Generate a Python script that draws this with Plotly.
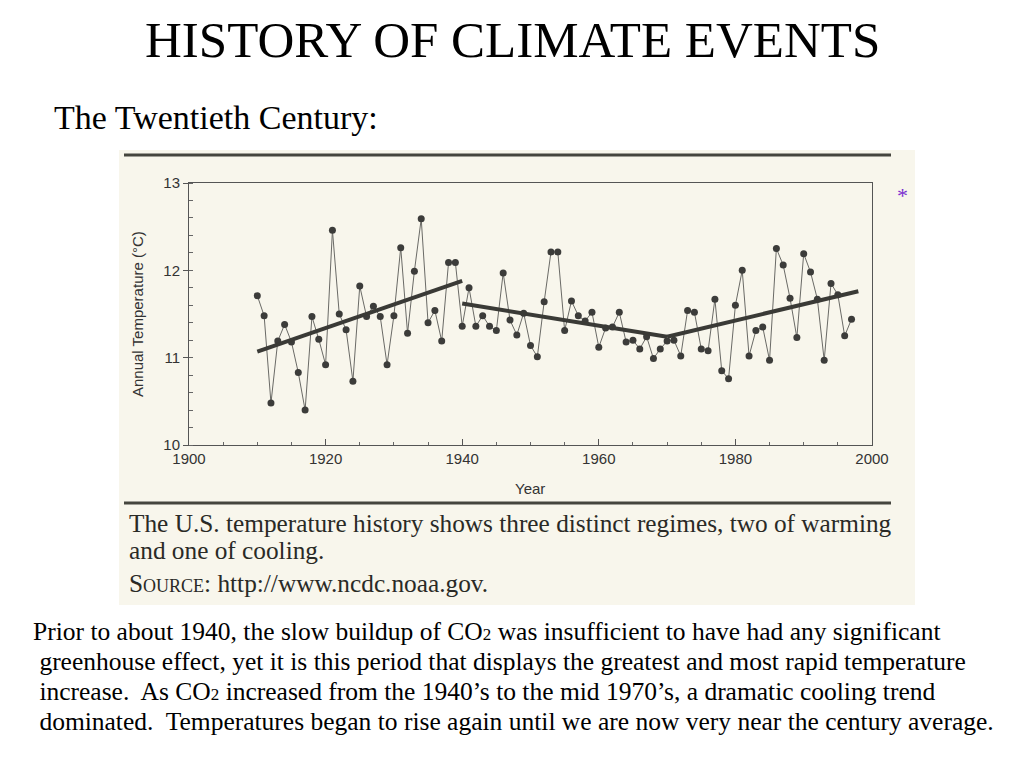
import plotly.graph_objects as go

# ---------------- data ----------------
years = list(range(1910, 1998))
temps = [
    11.71, 11.48, 10.48, 11.19, 11.38, 11.18, 10.83, 10.40, 11.47, 11.21,  # 1910-1919
    10.92, 12.46, 11.50, 11.32, 10.73, 11.82, 11.47, 11.59, 11.47, 10.92,  # 1920-1929
    11.48, 12.26, 11.28, 11.99, 12.59, 11.40, 11.54, 11.19, 12.09, 12.09,  # 1930-1939
    11.36, 11.80, 11.36, 11.48, 11.36, 11.31, 11.97, 11.43, 11.26, 11.51,  # 1940-1949
    11.14, 11.01, 11.64, 12.21, 12.21, 11.31, 11.65, 11.48, 11.42, 11.52,  # 1950-1959
    11.12, 11.34, 11.35, 11.52, 11.18, 11.20, 11.10, 11.24, 10.99, 11.10,  # 1960-1969
    11.19, 11.20, 11.02, 11.54, 11.52, 11.10, 11.08, 11.67, 10.85, 10.76,  # 1970-1979
    11.60, 12.00, 11.02, 11.31, 11.35, 10.97, 12.25, 12.06, 11.68, 11.23,  # 1980-1989
    12.19, 11.98, 11.67, 10.97, 11.85, 11.72, 11.25, 11.44,                # 1990-1997
]

trend1_years = [1910, 1940]
trend1_vals = [11.07, 11.88]
trend2_years = [1940, 1970]
trend2_vals = [11.62, 11.24]
trend3_years = [1970, 1998]
trend3_vals = [11.24, 11.76]

x_ticks = [1900, 1920, 1940, 1960, 1980, 2000]
y_ticks = [10, 11, 12, 13]

title_text = "HISTORY OF CLIMATE EVENTS"
subtitle_text = "The Twentieth Century:"
caption_lines = [
    "The U.S. temperature history shows three distinct regimes, two of warming",
    "and one of cooling.",
    "S<span style='font-size:18px'>OURCE</span>: http://www.ncdc.noaa.gov.",
]
sub2 = "CO<span style='font-size:17px'>2</span>"
body_lines = [
    "Prior to about 1940, the slow buildup of " + sub2 + " was insufficient to have had any significant",
    " greenhouse effect, yet it is this period that displays the greatest and most rapid temperature",
    " increase.  As " + sub2 + " increased from the 1940\u2019s to the mid 1970\u2019s, a dramatic cooling trend",
    " dominated.  Temperatures began to rise again until we are now very near the century average.",
]

# ---------------- helpers ----------------
W, H = 1024, 768
OFF = 8  # page body margin
def px(x):
    return (x - OFF) / W
def py(y):
    return 1 - (y - OFF) / H

CREAM = "#f8f6ec"

fig = go.Figure()

fig.add_trace(go.Scatter(
    x=years, y=temps, mode="lines+markers",
    line=dict(color="#6a6a66", width=1),
    marker=dict(color="#3c3c3a", size=7),
    hoverinfo="x+y", showlegend=False,
))
for ty, tv in [(trend1_years, trend1_vals), (trend2_years, trend2_vals), (trend3_years, trend3_vals)]:
    fig.add_trace(go.Scatter(
        x=ty, y=tv, mode="lines",
        line=dict(color="#3a3a36", width=4),
        showlegend=False, hoverinfo="skip",
    ))

axis_font = dict(family="Liberation Sans, Arial, sans-serif", size=15, color="#333333")

fig.update_layout(
    width=W, height=H,
    margin=dict(l=0, r=0, t=0, b=0, autoexpand=False),
    paper_bgcolor="white",
    plot_bgcolor=CREAM,
    showlegend=False,
    xaxis=dict(
        domain=[px(189), px(872)],
        range=[1900, 2000],
        tickvals=x_ticks,
        ticks="inside", ticklen=6, tickcolor="#555555",
        minor=dict(dtick=5, tick0=1900, ticks="inside", ticklen=3, tickcolor="#666666"),
        showgrid=False, zeroline=False, automargin=False,
        showline=True, linecolor="#555555", linewidth=1, mirror=True,
        tickfont=axis_font,
    ),
    yaxis=dict(
        domain=[py(445), py(183)],
        range=[10, 13],
        tickvals=y_ticks,
        ticks="outside", ticklen=5, tickcolor="#555555",
        minor=dict(dtick=0.2, tick0=10, ticks="inside", ticklen=4, tickcolor="#666666"),
        showgrid=False, zeroline=False, automargin=False,
        showline=True, linecolor="#555555", linewidth=1, mirror=True,
        tickfont=axis_font,
    ),
)

# scanned-figure backdrop and rules
fig.add_shape(type="rect", xref="paper", yref="paper",
              x0=px(119), x1=px(915), y0=py(605), y1=py(150),
              fillcolor=CREAM, line=dict(width=0), layer="below")
for yy in (155, 503):
    fig.add_shape(type="line", xref="paper", yref="paper",
                  x0=px(124), x1=px(891), y0=py(yy), y1=py(yy),
                  line=dict(color="#45453e", width=3))

SERIF = "Liberation Serif, Times New Roman, serif"
SANS = "Liberation Sans, Arial, sans-serif"
ann = []
ann.append(dict(text=title_text, x=px(512), y=py(40), xref="paper", yref="paper",
                showarrow=False, xanchor="center", yanchor="middle",
                font=dict(family=SERIF, size=51, color="black")))
ann.append(dict(text=subtitle_text, x=px(52), y=py(117), xref="paper", yref="paper",
                showarrow=False, xanchor="left", yanchor="middle",
                font=dict(family=SERIF, size=34, color="black")))
ann.append(dict(text="Annual Temperature (\u00b0C)", x=px(137), y=py(314), xref="paper", yref="paper",
                showarrow=False, xanchor="center", yanchor="middle", textangle=-90,
                font=dict(family=SANS, size=15, color="#333333")))
ann.append(dict(text="Year", x=px(530), y=py(488), xref="paper", yref="paper",
                showarrow=False, xanchor="center", yanchor="middle",
                font=dict(family=SANS, size=15, color="#333333")))
ann.append(dict(text="*", x=px(902), y=py(196), xref="paper", yref="paper",
                showarrow=False, xanchor="center", yanchor="middle",
                font=dict(family=SERIF, size=22, color="#7a2fd0")))
for line, yy in zip(caption_lines, (523, 550, 583)):
    ann.append(dict(text=line, x=px(127), y=py(yy), xref="paper", yref="paper",
                    showarrow=False, xanchor="left", yanchor="middle",
                    font=dict(family=SERIF, size=25.3, color="#2a2a26")))
for line, yy in zip(body_lines, (631, 661, 691, 721)):
    ann.append(dict(text=line, x=px(31), y=py(yy), xref="paper", yref="paper",
                    showarrow=False, xanchor="left", yanchor="middle",
                    font=dict(family=SERIF, size=25.5, color="black")))
fig.update_layout(annotations=ann)

fig.write_html("out.html")
